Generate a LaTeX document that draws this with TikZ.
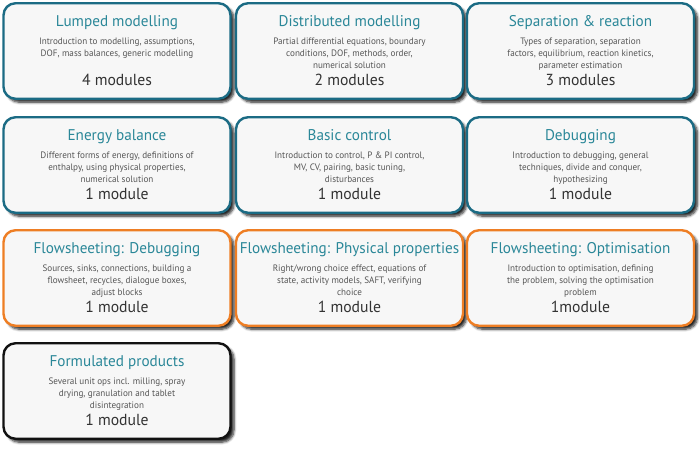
\documentclass[tikz,border=0pt]{standalone}
\usepackage{fontspec}
\setmainfont[FakeStretch=0.98]{PT Sans}
\usetikzlibrary{shadows.blur}

\definecolor{cardfill}{HTML}{F7F7F7}
\definecolor{tealline}{HTML}{1B6B84}
\definecolor{tealtext}{HTML}{2A8798}
\definecolor{orangeline}{HTML}{EE7E24}
\definecolor{darkline}{HTML}{111111}
\definecolor{desccol}{HTML}{555555}
\definecolor{modcol}{HTML}{333333}

\tikzset{
  card/.style={line width=2.4pt, rounded corners=12pt, fill=cardfill,
    minimum width=227pt, minimum height=95.5pt, inner sep=0pt,
    blur shadow={shadow xshift=3.5pt, shadow yshift=-3.5pt,
      shadow blur radius=2.5pt, shadow blur steps=6, shadow opacity=85}},
  titletext/.style={inner sep=0pt, text=tealtext, font=\fontsize{15.5}{18}\selectfont},
  desctext/.style={inner sep=0pt, text=desccol, align=center,
    font=\fontsize{9.3}{12}\selectfont},
  modtext/.style={inner sep=0pt, text=modcol, font=\fontsize{16}{18}\selectfont},
}

% one course card: name, centre x, top y, border colour, title, topics, module count
\newcommand\modcard[7]{%
  \node[card, draw=#4] (#1) at (#2, #3+49) {};
  \node[titletext, anchor=base] (#1-t) at (#2, #3+24) {#5};
  \node[desctext, anchor=north] (#1-d) at (#2, #3+35.5) {#6};
  \node[modtext, anchor=base] (#1-m) at (#2, #3+83.5) {#7};
}

\begin{document}
\begin{tikzpicture}[x=1pt, y=-1pt]
\useasboundingbox (0,0) rectangle (700,450);

\modcard{lumped}{117}{2}{tealline}{Lumped modelling}
  {Introduction to modelling, assumptions,\\DOF, mass balances, generic modelling}
  {4 modules}
\modcard{distrib}{349.5}{2}{tealline}{Distributed modelling}
  {Partial differential equations, boundary\\conditions, DOF, methods, order,\\numerical solution}
  {2 modules}
\modcard{separ}{580.5}{2}{tealline}{Separation \& reaction}
  {Types of separation, separation\\factors, equilibrium, reaction kinetics,\\parameter estimation}
  {3 modules}

\modcard{energy}{117}{116}{tealline}{Energy balance}
  {Different forms of energy, definitions of\\enthalpy, using physical properties,\\numerical solution}
  {1 module}
\modcard{control}{349.5}{116}{tealline}{Basic control}
  {Introduction to control, P \& PI control,\\MV, CV, pairing, basic tuning,\\disturbances}
  {1 module}
\modcard{debug}{580.5}{116}{tealline}{Debugging}
  {Introduction to debugging, general\\techniques, divide and conquer,\\hypothesizing}
  {1 module}

\modcard{fsdebug}{117}{229}{orangeline}{Flowsheeting: Debugging}
  {Sources, sinks, connections, building a\\flowsheet, recycles, dialogue boxes,\\adjust blocks}
  {1 module}
\modcard{fsprops}{349.5}{229}{orangeline}{Flowsheeting: Physical properties}
  {Right/wrong choice effect, equations of\\state, activity models, SAFT, verifying\\choice}
  {1 module}
\modcard{fsopt}{580.5}{229}{orangeline}{Flowsheeting: Optimisation}
  {Introduction to optimisation, defining\\the problem, solving the optimisation\\problem}
  {1module}

\modcard{formul}{117}{342}{darkline}{Formulated products}
  {Several unit ops incl. milling, spray\\drying, granulation and tablet\\disintegration}
  {1 module}
\end{tikzpicture}
\end{document}
